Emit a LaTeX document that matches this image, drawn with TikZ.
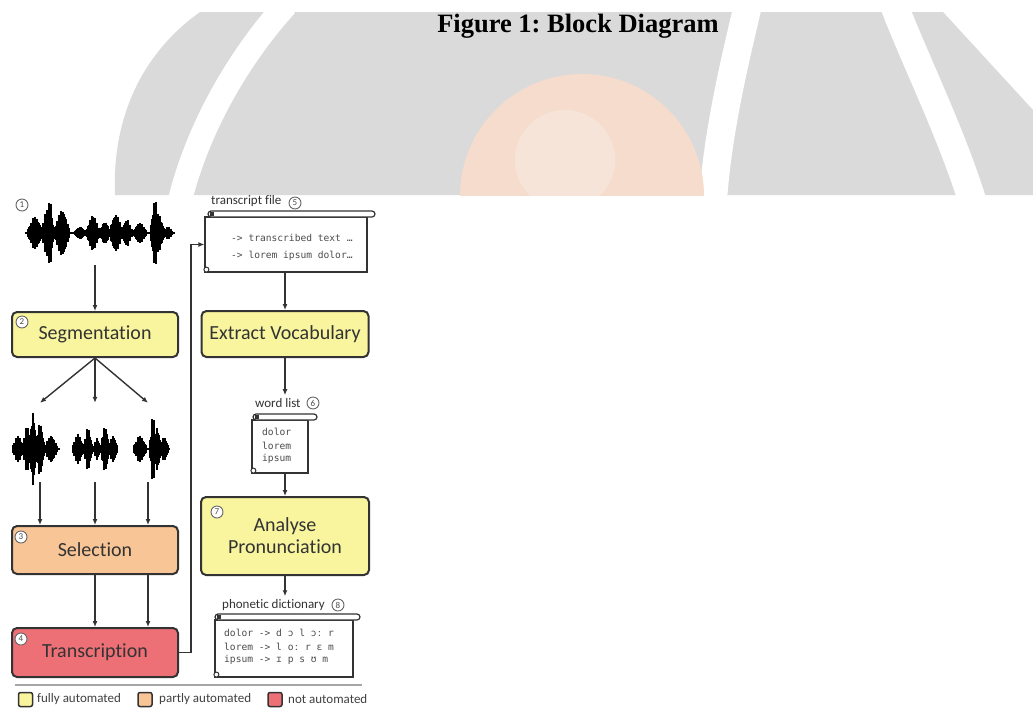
\documentclass[tikz,border=0pt]{standalone}
\usepackage{fontspec}
\setmainfont{Liberation Serif}
\newfontfamily\calib[Ligatures=NoCommon]{Carlito}
\newfontfamily\monof{DejaVu Sans Mono}
\usetikzlibrary{arrows.meta,calc}
\frenchspacing

\definecolor{autoY}{HTML}{F8F59E}
\definecolor{autoO}{HTML}{F8C597}
\definecolor{autoR}{HTML}{EE7077}
\definecolor{edgec}{HTML}{333333}
\definecolor{wm}{HTML}{DADADA}
\definecolor{globec}{HTML}{F5DCCC}

\tikzset{
  stage/.style={draw=edgec, line width=2pt, rounded corners=5pt, inner sep=0pt,
    align=center, text=black!80, font=\calib\fontsize{20}{24}\selectfont},
  conn/.style={draw=edgec, line width=1.4pt, -{Latex[length=6pt,width=5pt]}},
  wavel/.style={draw=black, line width=1.3pt},
  wavebox/.style={inner sep=0pt},
  scrollbody/.style={draw=edgec, line width=1.2pt, fill=white, inner sep=0pt},
  roll/.style={draw=edgec, line width=1.2pt, fill=white, rounded corners=3pt, inner sep=0pt, minimum height=6pt},
  curl/.style={draw=edgec, line width=1pt, fill=white, circle, inner sep=0pt, minimum size=5pt},
  numc/.style={circle, draw=black!60, line width=0.9pt, fill=white, inner sep=0pt, minimum size=12pt,
    text=black!70, font=\calib\fontsize{9}{9}\selectfont},
  lbl/.style={anchor=west, inner sep=0pt, text=black!80, font=\calib\fontsize{13}{15}\selectfont},
  mono/.style={anchor=west, inner sep=0pt, text=black!70, font=\monof\fontsize{9.6}{11}\selectfont},
  legsq/.style={draw=edgec, line width=1.5pt, rounded corners=2pt, minimum size=14pt, inner sep=0pt},
  legtxt/.style={anchor=west, inner sep=0pt, text=black!75, font=\calib\fontsize{13}{15}\selectfont}
}

% waveform burst: xc, yc, amplitude, halfwidth, seed
\newcommand\wburst[5]{%
  \foreach \k in {-#4,...,#4}{%
    \pgfmathsetmacro\hh{#3*exp(-1.5*(\k*\k)/(#4*#4+0.01))*(0.6+0.4*abs(sin((\k+#5)*97.3)))+1.5}%
    \pgfmathsetmacro\xx{#1+\k}%
    \draw[wavel] (\xx,#2-\hh) -- (\xx,#2+\hh);
  }}

\begin{document}
\begin{tikzpicture}[x=1pt,y=-1pt]
\useasboundingbox (0,0) rectangle (1033,710);
\fill[white] (0,0) rectangle (1033,710);

% ---------- watermark ----------
\begin{scope}
  \clip (0,12) rectangle (1033,195);
  \fill[wm] (200,12) -- (943,12) -- (1033,110) -- (1033,195) -- (115,195)
     .. controls (112,120) and (140,55) .. (200,12) -- cycle;
  \draw[white, line width=24pt] (286,5) .. controls (245,50) and (200,120) .. (180,200);
  \draw[white, line width=28pt] (748,5) .. controls (735,60) and (718,130) .. (713,200);
  \draw[white, line width=28pt] (894,5) .. controls (915,60) and (950,130) .. (972,200);
  \fill[globec] (582,196) circle (122pt);
  \fill[white, opacity=0.25] (565,160) circle (50pt);
\end{scope}

% ---------- title ----------
\node[anchor=base, inner sep=0pt, font=\bfseries\fontsize{26.5}{30}\selectfont] (title) at (578,32) {Figure 1: Block Diagram};

% ---------- waveforms ----------
\node[wavebox, minimum width=150pt, minimum height=64pt] (w0) at (95,233) {};
\node[wavebox, minimum width=48pt, minimum height=79pt] (w1) at (40,442.5) {};
\node[wavebox, minimum width=46pt, minimum height=79pt] (w2) at (95,442.5) {};
\node[wavebox, minimum width=37pt, minimum height=79pt] (w3) at (148,442.5) {};

\draw[black, line width=1.6pt] (25,233) -- (175,233);
\wburst{35}{233}{15}{7}{1}
\wburst{47}{233}{22}{5}{3}
\wburst{50}{233}{34}{3}{2}
\wburst{62}{233}{22}{7}{4}
\wburst{80}{233}{5}{5}{5}
\wburst{93}{233}{17}{6}{6}
\wburst{105}{233}{10}{5}{7}
\wburst{116}{233}{18}{6}{8}
\wburst{127}{233}{12}{5}{9}
\wburst{140}{233}{9}{6}{10}
\wburst{158}{233}{18}{6}{12}
\wburst{155}{233}{32}{4}{11}
\wburst{168}{233}{5}{4}{13}

\draw[black, line width=1.6pt] (12,449) -- (60,449);
\wburst{18}{449}{12}{5}{1}
\wburst{27}{449}{22}{4}{2}
\wburst{40}{449}{26}{4}{4}
\wburst{33}{449}{36}{3}{3}
\wburst{51}{449}{12}{6}{5}

\draw[black, line width=1.6pt] (72,449) -- (118,449);
\wburst{78}{449}{14}{5}{1}
\wburst{88}{449}{20}{4}{2}
\wburst{97}{449}{10}{3}{3}
\wburst{105}{449}{22}{4}{4}
\wburst{113}{449}{12}{4}{5}

\draw[black, line width=1.6pt] (133,449) -- (170,449);
\wburst{140}{449}{12}{6}{1}
\wburst{157}{449}{20}{4}{3}
\wburst{153}{449}{34}{3}{2}
\wburst{164}{449}{11}{4}{4}

% ---------- stage boxes ----------
\node[stage, fill=autoY, minimum width=166pt, minimum height=45pt] (sg) at (95,334.5) {Segmentation};
\node[stage, fill=autoO, minimum width=166pt, minimum height=48pt] (sl) at (95,550) {Selection};
\node[stage, fill=autoR, minimum width=166pt, minimum height=49pt] (tr) at (95,652.5) {Transcription};
\node[stage, fill=autoY, minimum width=167pt, minimum height=46pt] (ev) at (285,334) {Extract Vocabulary};
\node[stage, fill=autoY, minimum width=168pt, minimum height=78pt] (ap) at (285,536) {Analyse\\[-2pt]Pronunciation};

% ---------- scrolls ----------
\node[scrollbody, minimum width=162pt, minimum height=55pt] (tf) at (286,244.5) {};
\node[roll, minimum width=167pt] (tfroll) at (291.5,214) {};
\fill[edgec] ($(tfroll.west)+(3,-2)$) rectangle ($(tfroll.west)+(7,2)$);
\node[curl] (tfcurl) at ($(tf.south west)+(2,-3)$) {};
\node[mono] (tf1) at (231,238) {-> transcribed text …};
\node[mono] (tf2) at (231,256) {-> lorem ipsum dolor…};
\node[lbl] (tflbl) at (211,201) {transcript file};
\node[numc] (n5) at (295,203) {5};

\node[scrollbody, minimum width=56pt, minimum height=53pt] (wl) at (280,446.5) {};
\node[roll, minimum width=64pt] (wlroll) at (285,417) {};
\fill[edgec] ($(wlroll.west)+(3,-2)$) rectangle ($(wlroll.west)+(7,2)$);
\node[curl] (wlcurl) at ($(wl.south west)+(2,-3)$) {};
\node[mono] (wl1) at (262,432) {dolor};
\node[mono] (wl2) at (262,446) {lorem};
\node[mono] (wl3) at (262,459) {ipsum};
\node[lbl] (wllbl) at (255,403) {word list};
\node[numc] (n6) at (313,403) {6};

\node[scrollbody, minimum width=138pt, minimum height=57pt] (pd) at (284,648.5) {};
\node[roll, minimum width=145pt] (pdroll) at (287.5,617) {};
\fill[edgec] ($(pdroll.west)+(3,-2)$) rectangle ($(pdroll.west)+(7,2)$);
\node[curl] (pdcurl) at ($(pd.south west)+(2,-3)$) {};
\node[mono] (pd1) at (224,633) {dolor -> d ɔ l ɔː r};
\node[mono] (pd2) at (224,647) {lorem -> l oː r ɛ m};
\node[mono] (pd3) at (224,660) {ipsum -> ɪ p s ʊ m};
\node[lbl] (pdlbl) at (222,605) {phonetic dictionary};
\node[numc] (n8) at (338,605) {8};

% ---------- step numbers ----------
\node[numc] (n1) at (22,205) {1};
\node[numc] (n2) at (22,322) {2};
\node[numc] (n3) at (21,537) {3};
\node[numc] (n4) at (21,639) {4};
\node[numc] (n7) at (217,512) {7};

% ---------- connectors ----------
\draw[conn] (w0.south) -- (sg.north);
\draw[conn] (sg.south) -- (w1.north);
\draw[conn] (sg.south) -- (w2.north);
\draw[conn] (sg.south) -- (w3.north);
\draw[conn] (w1.south) -- (w1.south |- sl.north);
\draw[conn] (w2.south) -- (w2.south |- sl.north);
\draw[conn] (w3.south) -- (w3.south |- sl.north);
\draw[conn] (sl.south) -- (tr.north);
\draw[conn] (w3.south |- sl.south) -- (w3.south |- tr.north);
\draw[conn] (tr.east) -- ++(12,0) |- (tf.west);
\draw[conn] (tf.south -| ev.north) -- (ev.north);
\draw[conn] (ev.south) -- ($(ev.south |- wllbl.north)+(0,-3)$);
\draw[conn] (ev.south |- wl.south) -- (ap.north);
\draw[conn] (ap.south) -- ($(ap.south |- pdlbl.north)+(0,-3)$);

% ---------- legend ----------
\draw[black!35, line width=1.5pt] (15,685) -- (362,685);
\node[legsq, fill=autoY] (ly) at (25.5,699.5) {};
\node[legtxt] (lyt) at (37,699.5) {fully automated};
\node[legsq, fill=autoO] (lo) at (145,699.5) {};
\node[legtxt] (lot) at (159,699.5) {partly automated};
\node[legsq, fill=autoR] (lr) at (275,699.5) {};
\node[legtxt] (lrt) at (288,699.5) {not automated};
\end{tikzpicture}
\end{document}
